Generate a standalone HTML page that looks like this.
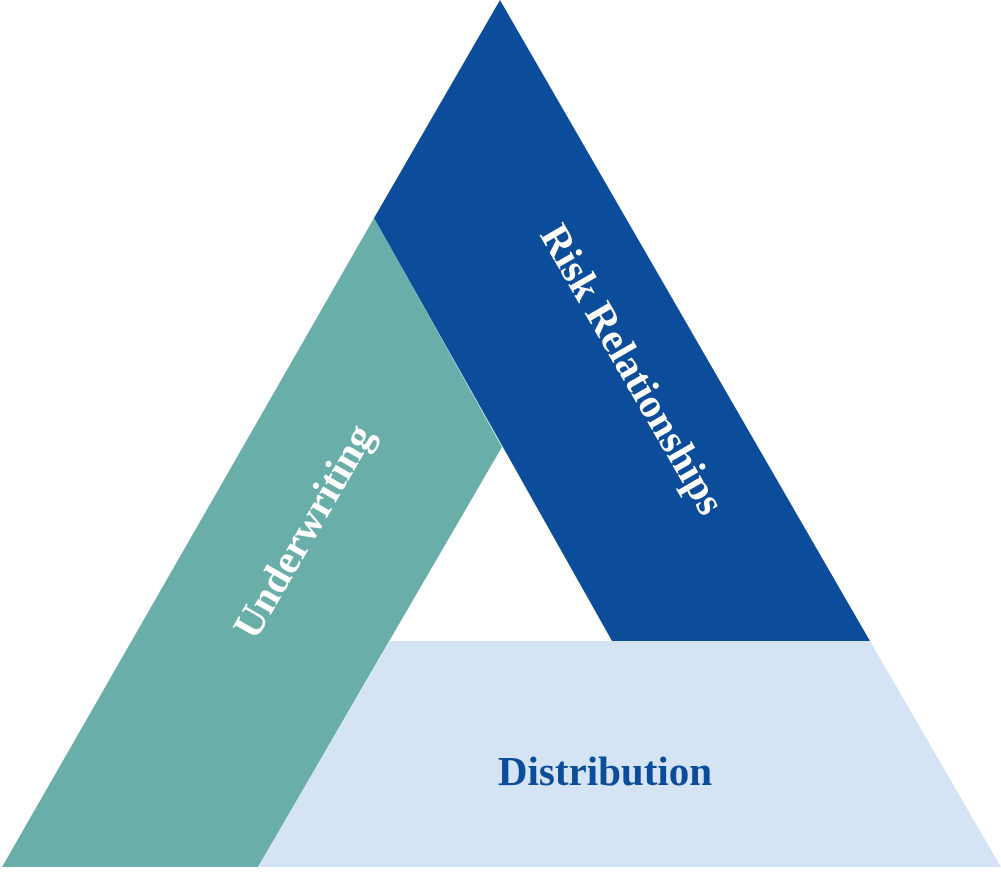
<!DOCTYPE html>
<html><head><meta charset="utf-8"><style>html,body{margin:0;padding:0;background:#fff}</style></head>
<body>
<svg width="1001" height="867" viewBox="0 0 1001 867" xmlns="http://www.w3.org/2000/svg">
<polygon points="500,0 374,218 612,641 870,641" fill="#0b4d9a"/>
<polygon points="374,218 502,447 258,867 2,867" fill="#6aaea9"/>
<polygon points="390,641 870,641 1001,867 258,867" fill="#d5e4f5"/>
<g font-family="Liberation Serif, serif" font-weight="bold" font-size="41" text-anchor="middle">
<text x="0" y="0" fill="#fff" transform="translate(633,369) rotate(60)" dy="14">Risk Relationships</text>
<text x="0" y="0" fill="#fff" transform="translate(303,531) rotate(-60)" dy="14">Underwriting</text>
<text x="605" y="785" fill="#0b4d9a">Distribution</text>
</g>
</svg>
</body></html>
